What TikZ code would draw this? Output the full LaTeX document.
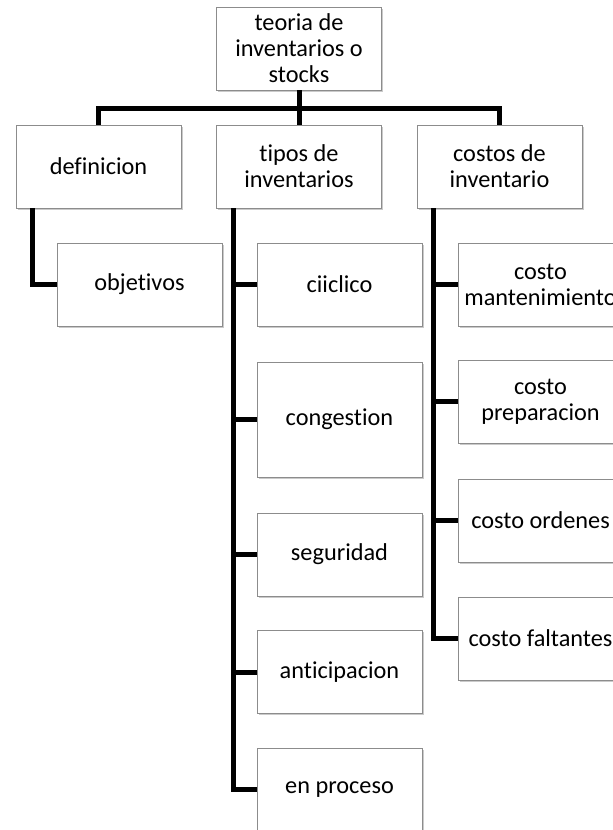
\documentclass[tikz,border=0pt]{standalone}
\usepackage{fontspec}
\setmainfont{Carlito}[Ligatures=NoCommon]
\usetikzlibrary{shadows}
\definecolor{boxline}{RGB}{140,140,140}
\begin{document}
\begin{tikzpicture}[x=1pt,y=-1pt,
        caja/.style={draw=boxline,fill=white,minimum width=165pt,minimum height=83pt,align=center,inner sep=2pt,
            font=\fontsize{24.3}{26}\selectfont,
            drop shadow={shadow xshift=1.5pt,shadow yshift=-1.5pt,opacity=0.35,fill=black!60}},
        enlace/.style={line width=5pt,black}]
        \useasboundingbox (0,0) rectangle (613,830);
        \node[caja] (raiz) at (299,48.5) {teoria de\\inventarios o\\stocks};
        \node[caja] (definicion) at (98.5,166.5) {definicion};
        \node[caja] (tipos) at (299,166.5) {tipos de\\inventarios};
        \node[caja] (costos) at (499.5,166.5) {costos de\\inventario};
        \node[caja] (objetivos) at (139.5,284.5) {objetivos};
        \node[caja] (ciiclico) at (339.5,284.5) {ciiclico};
        \node[caja,minimum height=115pt] (congestion) at (339.5,419.5) {congestion};
        \node[caja] (seguridad) at (339.5,554.5) {seguridad};
        \node[caja] (anticipacion) at (339.5,672) {anticipacion};
        \node[caja] (enproceso) at (339.5,789.5) {en proceso};
        \node[caja] (mantenimiento) at (540.5,284.5) {costo\\mantenimiento};
        \node[caja] (preparacion) at (540.5,401.5) {costo\\preparacion};
        \node[caja] (ordenes) at (540.5,520.5) {costo ordenes};
        \node[caja] (faltantes) at (540.5,638.5) {costo faltantes};
        \coordinate (barra) at (299,108);
        \draw[enlace] (definicion.north) -- (definicion.north |- barra) -- (costos.north |- barra) -- (costos.north);
        \draw[enlace] (raiz.south) -- (tipos.north);
        \draw[enlace] ([xshift=17pt]definicion.south west) |- (objetivos.west);
        \foreach \n in {ciiclico,congestion,seguridad,anticipacion,enproceso}
            \draw[enlace] ([xshift=17pt]tipos.south west) |- (\n.west);
        \foreach \n in {mantenimiento,preparacion,ordenes,faltantes}
            \draw[enlace] ([xshift=17pt]costos.south west) |- (\n.west);
    \end{tikzpicture}
\end{document}
